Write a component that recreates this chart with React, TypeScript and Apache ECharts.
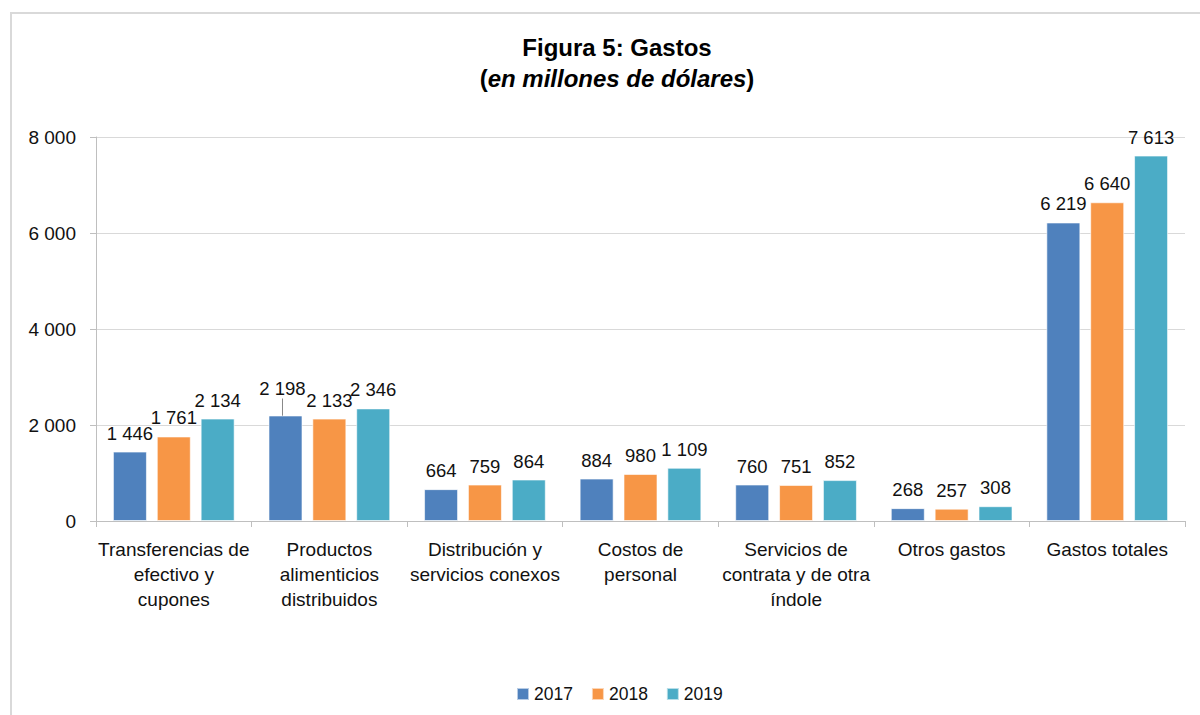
import React, { useEffect, useRef } from "react";
import * as echarts from "echarts";

const categories = [
  "Transferencias de\nefectivo y\ncupones",
  "Productos\nalimenticios\ndistribuidos",
  "Distribución y\nservicios conexos",
  "Costos de\npersonal",
  "Servicios de\ncontrata y de otra\níndole",
  "Otros gastos",
  "Gastos totales",
];
const seriesNames = ["2017", "2018", "2019"];
const values2017 = [1446, 2198, 664, 884, 760, 268, 6219];
const values2018 = [1761, 2133, 759, 980, 751, 257, 6640];
const values2019 = [2134, 2346, 864, 1109, 852, 308, 7613];
const colors = ["#4F81BD", "#F79646", "#4BACC6"];
const yTicks = { min: 0, max: 8000, interval: 2000 };

const FONT = "'Liberation Sans', Arial, sans-serif";
const fmt = (v: number) =>
  String(Math.round(v)).replace(/\B(?=(\d{3})+(?!\d))/g, " ");

export default function App() {
  const ref = useRef<HTMLDivElement>(null);
  useEffect(() => {
    if (!ref.current) return;
    const chart = echarts.init(ref.current, null, { renderer: "svg" });
    const all = [values2017, values2018, values2019];
    chart.setOption({
      animation: false,
      textStyle: { fontFamily: FONT },
      title: {
        left: 612,
        textAlign: "center",
        top: 27,
        text:
          "{b|Figura 5: Gastos}\n{b|(}{bi|en millones de dólares}{b|)}",
        textStyle: {
          align: "center",
          rich: {
            b: { fontSize: 24, fontWeight: "bold", color: "#000", fontFamily: FONT, lineHeight: 31 },
            bi: { fontSize: 24, fontWeight: "bold", fontStyle: "italic", color: "#000", fontFamily: FONT, lineHeight: 31 },
          },
        },
      },
      graphic: [
        {
          type: "rect",
          shape: { x: 11, y: 13, width: 1200, height: 720 },
          style: { fill: "none", stroke: "#d9d9d9", lineWidth: 2 },
          silent: true,
          z: -1,
        },
      ],
      legend: {
        top: 680,
        left: 511,
        itemWidth: 12,
        itemHeight: 12,
        itemGap: 18,
        icon: "rect",
        textStyle: { fontSize: 17.5, color: "#111", fontFamily: FONT },
        data: seriesNames,
      },
      grid: { left: 96, right: 15, top: 137, bottom: 194 },
      xAxis: {
        type: "category",
        data: categories,
        axisLine: { lineStyle: { color: "#bfbfbf", width: 1 } },
        axisTick: { show: true, length: 6, lineStyle: { color: "#bfbfbf" } },
        axisLabel: {
          interval: 0,
          fontSize: 19,
          color: "#111",
          lineHeight: 25,
          margin: 16,
          fontFamily: FONT,
        },
      },
      yAxis: {
        type: "value",
        min: yTicks.min,
        max: yTicks.max,
        interval: yTicks.interval,
        axisLine: { show: true, lineStyle: { color: "#bfbfbf" } },
        axisTick: { show: true, length: 6, lineStyle: { color: "#bfbfbf" } },
        splitLine: { lineStyle: { color: "#d9d9d9", width: 1 } },
        axisLabel: {
          fontSize: 19,
          color: "#111",
          margin: 20,
          fontFamily: FONT,
          formatter: (v: number) => fmt(v),
        },
      },
      series: seriesNames.map((name, si) => ({
        name,
        type: "bar",
        barWidth: 34,
        barGap: "29%",
        itemStyle: { color: colors[si], borderColor: "rgba(255,255,255,0.6)", borderWidth: 1 },
        label: {
          show: true,
          position: "top",
          distance: 9,
          fontSize: 18.5,
          color: "#111",
          fontFamily: FONT,
          formatter: (p: any) => fmt(p.value),
        },
        labelLine: { show: false },
        labelLayout: (p: any) =>
          si === 0 && p.dataIndex === 1 ? { dy: -8, dx: -3 } : {},
        data: all[si].map((v, i) =>
          si === 0 && i === 1
            ? { value: v, labelLine: { show: true, lineStyle: { color: "#888", width: 1 } } }
            : v
        ),
      })),
    });
    return () => chart.dispose();
  }, []);
  return (
    <div
      ref={ref}
      style={{ position: "fixed", left: 0, top: 0, width: 1200, height: 715, background: "#fff" }}
    />
  );
}
